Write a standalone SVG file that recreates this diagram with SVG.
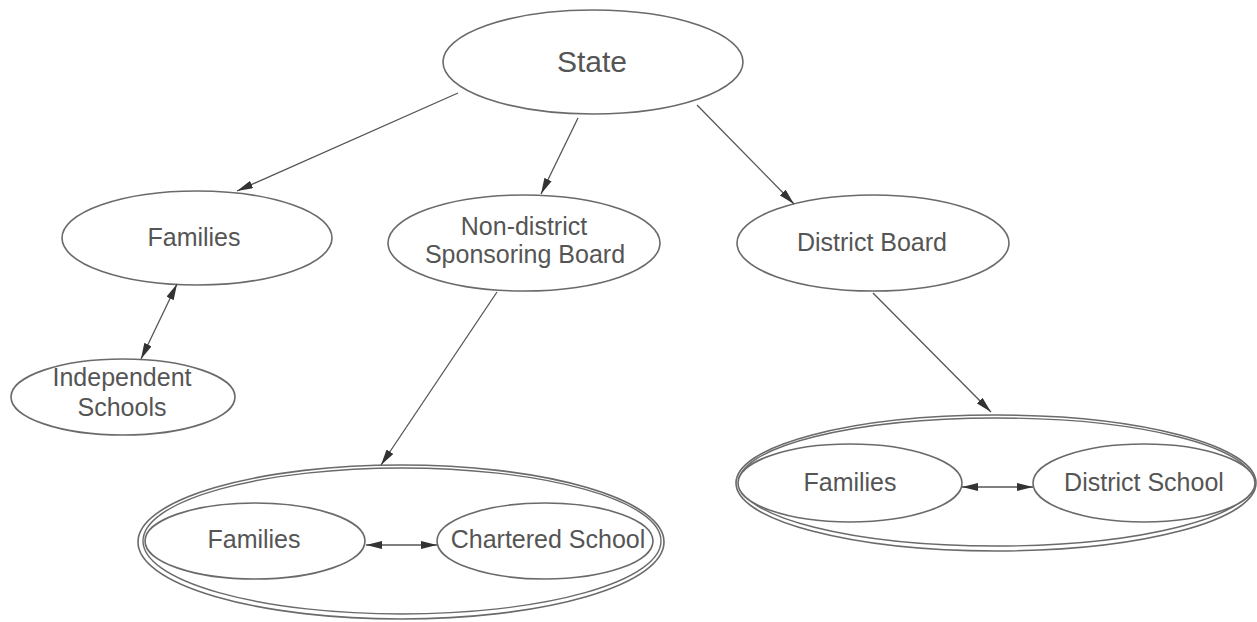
<svg xmlns="http://www.w3.org/2000/svg" width="1257" height="622" viewBox="0 0 1257 622">
<style>
.n{fill:#fff;stroke:#6a6a6a;stroke-width:1.6}
.o{fill:none;stroke:#6a6a6a;stroke-width:1.4}
.t{font-family:"Liberation Sans",Arial,sans-serif;font-size:25px;fill:#555;text-anchor:middle}
.c{stroke:#555;stroke-width:1.3;fill:none}
</style>
<defs>
<marker id="a" viewBox="0 0 16 8" refX="16" refY="4" markerWidth="16" markerHeight="8" markerUnits="userSpaceOnUse" orient="auto-start-reverse">
<path d="M0,0 L16,4 L0,8 Z" fill="#333"/>
</marker>
</defs>
<rect width="1257" height="622" fill="#fff"/>
<g id="state"><ellipse class="n" cx="593" cy="62" rx="150" ry="52"/><text class="t" x="592" y="72" style="font-size:30px">State</text></g>
<g id="families1"><ellipse class="n" cx="197" cy="238" rx="135" ry="47"/><text class="t" x="194" y="246">Families</text></g>
<g id="nondistrict"><ellipse class="n" cx="524" cy="243" rx="136" ry="48"/><text class="t" x="524" y="235">Non-district</text><text class="t" x="525" y="263">Sponsoring Board</text></g>
<g id="districtboard"><ellipse class="n" cx="873" cy="243" rx="136" ry="48"/><text class="t" x="872" y="251">District Board</text></g>
<g id="independent"><ellipse class="n" cx="123" cy="397" rx="112" ry="38"/><text class="t" x="122" y="386">Independent</text><text class="t" x="122" y="416">Schools</text></g>
<g id="charteredgroup"><ellipse class="n" cx="401" cy="542" rx="263" ry="77"/><ellipse class="o" cx="402" cy="541" rx="259" ry="73"/>
<g id="families2"><ellipse class="n" cx="255" cy="541" rx="110" ry="38"/><text class="t" x="254" y="548">Families</text></g>
<g id="chartered"><ellipse class="n" cx="545" cy="541" rx="108" ry="38"/><text class="t" x="548" y="548">Chartered School</text></g></g>
<g id="districtgroup"><ellipse class="n" cx="996" cy="483" rx="260" ry="68"/><ellipse class="o" cx="996" cy="482" rx="257" ry="64"/>
<g id="families3"><ellipse class="n" cx="850" cy="483" rx="112" ry="39"/><text class="t" x="850" y="491">Families</text></g>
<g id="districtschool"><ellipse class="n" cx="1144" cy="483" rx="111" ry="39"/><text class="t" x="1144" y="491">District School</text></g></g>
<g id="connectors">
<line class="c" x1="458" y1="93" x2="237" y2="191" marker-end="url(#a)"/>
<line class="c" x1="578" y1="118" x2="541" y2="194" marker-end="url(#a)"/>
<line class="c" x1="697" y1="105" x2="794" y2="204" marker-end="url(#a)"/>
<line class="c" x1="177" y1="284" x2="141" y2="359" marker-start="url(#a)" marker-end="url(#a)"/>
<line class="c" x1="497" y1="292" x2="381" y2="465" marker-end="url(#a)"/>
<line class="c" x1="873" y1="293" x2="991" y2="412" marker-end="url(#a)"/>
<line class="c" x1="366" y1="545" x2="437" y2="545" marker-start="url(#a)" marker-end="url(#a)"/>
<line class="c" x1="962" y1="487" x2="1033" y2="487" marker-start="url(#a)" marker-end="url(#a)"/>
</g>
</svg>
